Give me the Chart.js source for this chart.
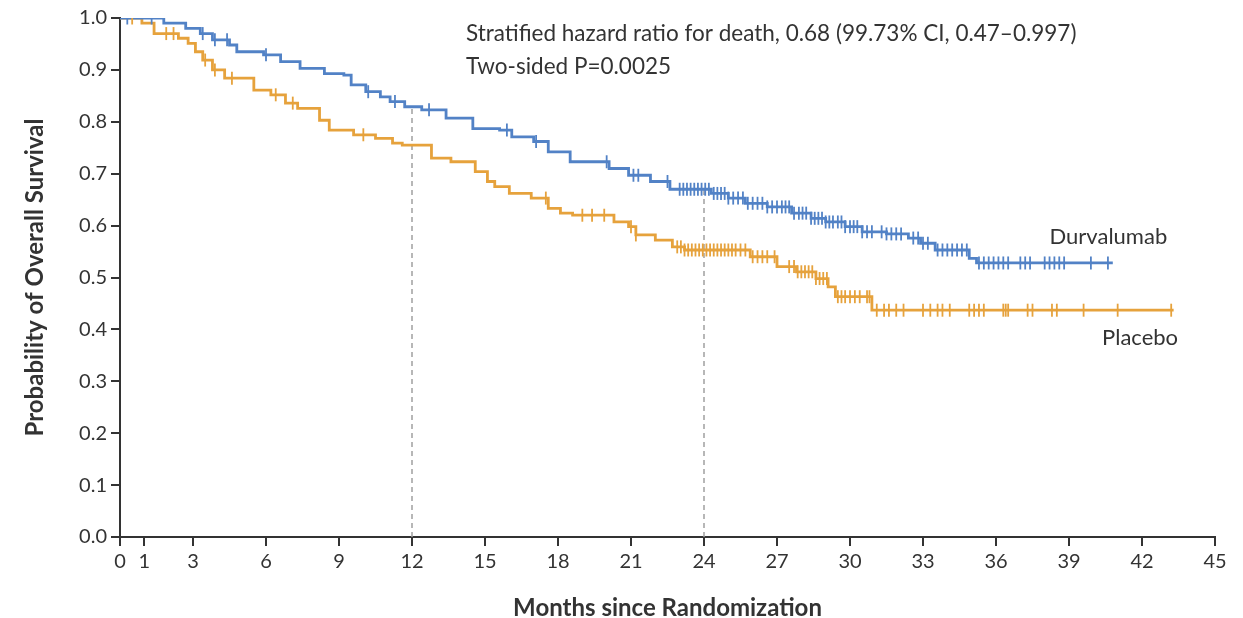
<!DOCTYPE html>
<html>
<head>
<meta charset="utf-8">
<script src="https://cdn.jsdelivr.net/npm/chart.js@4.4.1/dist/chart.umd.min.js"></script>
<style>
html,body{margin:0;padding:0;background:#fff;}
#wrap{position:relative;width:1243px;height:618px;}
</style>
</head>
<body>
<div id="wrap"><canvas id="c" width="1243" height="618"></canvas></div>
<script>
// ---- Data ----
const xTickValues = [0, 1, 3, 6, 9, 12, 15, 18, 21, 24, 27, 30, 33, 36, 39, 42, 45];

const durvaTime = [0, 1.8, 2.7, 3.3, 3.8, 4.5, 4.8, 5.9, 6.6, 7.4, 8.4, 9.2, 9.5, 10.1, 10.7, 11.1, 11.7, 12.4, 13.4, 14.5, 15.6, 16.1, 17.0, 17.6, 18.5, 20.1, 20.9, 21.8, 22.6, 24.3, 25.0, 25.7, 26.6, 27.6, 28.4, 29.0, 29.8, 30.5, 31.5, 32.4, 32.9, 33.5, 34.9, 35.2, 40.8];
const durvaSurv = [1.0, 0.99, 0.98, 0.97, 0.958, 0.948, 0.935, 0.929, 0.916, 0.903, 0.893, 0.89, 0.871, 0.858, 0.848, 0.839, 0.829, 0.823, 0.807, 0.787, 0.784, 0.771, 0.762, 0.742, 0.723, 0.71, 0.697, 0.685, 0.67, 0.662, 0.653, 0.643, 0.636, 0.624, 0.614, 0.607, 0.598, 0.588, 0.584, 0.576, 0.566, 0.553, 0.537, 0.528, 0.528];

const placeboTime = [0, 0.9, 1.4, 2.4, 2.8, 3.1, 3.4, 3.8, 4.3, 5.5, 6.2, 6.8, 7.3, 8.2, 8.6, 9.6, 10.5, 11.2, 11.6, 12.8, 13.6, 14.6, 15.1, 15.4, 16.0, 16.9, 17.6, 18.1, 18.6, 20.3, 20.9, 21.2, 22.0, 22.7, 23.2, 25.9, 27.0, 27.8, 28.6, 29.1, 29.4, 30.9, 43.3];
const placeboSurv = [1.0, 0.99, 0.97, 0.961, 0.951, 0.935, 0.919, 0.9, 0.884, 0.861, 0.852, 0.836, 0.826, 0.803, 0.784, 0.775, 0.768, 0.759, 0.755, 0.73, 0.723, 0.704, 0.685, 0.675, 0.662, 0.653, 0.633, 0.624, 0.62, 0.607, 0.598, 0.582, 0.572, 0.559, 0.553, 0.54, 0.521, 0.511, 0.498, 0.482, 0.463, 0.437, 0.437];

const durvaCensor = [0.3, 1.3, 3.4, 3.9, 4.4, 6.0, 10.2, 11.3, 12.7, 15.9, 17.1, 20.0, 21.1, 21.3, 22.5, 23.0, 23.15, 23.3, 23.45, 23.6, 23.75, 23.9, 24.05, 24.2, 24.4, 24.55, 24.7, 24.85, 25.0, 25.2, 25.4, 25.6, 25.8, 26.0, 26.2, 26.4, 26.6, 26.8, 27.0, 27.2, 27.35, 27.5, 27.7, 27.9, 28.05, 28.2, 28.4, 28.55, 28.7, 28.85, 29.0, 29.15, 29.3, 29.5, 29.65, 29.8, 30.0, 30.15, 30.3, 30.5, 30.7, 30.9, 31.3, 31.5, 31.7, 31.9, 32.1, 32.6, 32.8, 33.0, 33.2, 33.6, 33.8, 34.0, 34.2, 34.4, 34.6, 34.8, 35.3, 35.5, 35.7, 35.9, 36.1, 36.3, 36.5, 37.0, 37.2, 37.4, 38.0, 38.2, 38.4, 38.6, 38.8, 39.9, 40.6];
const placeboCensor = [0.5, 1.9, 2.2, 3.5, 3.9, 4.6, 6.4, 7.1, 10.0, 17.5, 19.0, 19.4, 19.9, 21.0, 21.2, 22.9, 23.05, 23.2, 23.35, 23.5, 23.65, 23.8, 23.95, 24.1, 24.25, 24.4, 24.55, 24.7, 24.85, 25.0, 25.15, 25.3, 25.5, 25.7, 26.0, 26.2, 26.4, 26.6, 26.9, 27.5, 27.7, 27.85, 28.0, 28.15, 28.3, 28.45, 28.6, 28.75, 28.9, 29.05, 29.5, 29.65, 29.8, 30.0, 30.2, 30.4, 30.7, 30.8, 31.1, 31.4, 31.6, 31.9, 32.2, 33.0, 33.3, 33.6, 33.8, 34.1, 34.9, 35.1, 35.3, 35.5, 36.3, 36.4, 36.5, 37.3, 37.5, 38.3, 38.5, 39.6, 41.0, 43.2];

const landmarkMonths = [12, 24];

const seriesNames = ['Durvalumab', 'Placebo'];
const annotationLines = ['Stratified hazard ratio for death, 0.68 (99.73% CI, 0.47\u20130.997)', 'Two-sided P=0.0025'];

// ---- helpers ----
function stepValue(times, surv, t) {
  let v = surv[0];
  for (let i = 0; i < times.length; i++) { if (times[i] <= t) v = surv[i]; else break; }
  return v;
}
const toPts = (xs, ys) => xs.map((x, i) => ({x, y: ys[i]}));
const censorPts = (cs, times, surv) => cs.map(t => ({x: t, y: stepValue(times, surv, t)}));

const BLUE = '#5282c6';
const ORANGE = '#e6a23c';
const TXT = '#333333';
const FONT = 'Lato, "Open Sans", sans-serif';

const landmarkDatasets = landmarkMonths.map(m => ({
  type: 'line',
  data: [{x: m, y: 0}, {x: m, y: stepValue(durvaTime, durvaSurv, m)}],
  borderColor: '#a0a0a0', borderWidth: 1.5, borderDash: [5, 4],
  pointRadius: 0, fill: false, order: 5
}));

const textPlugin = {
  id: 'texts',
  afterDatasetsDraw(chart) {
    const {ctx, scales: {x, y}} = chart;
    ctx.save();
    ctx.fillStyle = TXT;
    ctx.font = '22.5px ' + FONT;
    ctx.textAlign = 'left';
    ctx.textBaseline = 'middle';
    ctx.fillText(annotationLines[0], x.getPixelForValue(14.22), y.getPixelForValue(0.969));
    ctx.fillText(annotationLines[1], x.getPixelForValue(14.22), y.getPixelForValue(0.906));
    ctx.font = '22px ' + FONT;
    ctx.fillText(seriesNames[0], x.getPixelForValue(38.2), y.getPixelForValue(0.578));
    ctx.fillText(seriesNames[1], x.getPixelForValue(40.36), y.getPixelForValue(0.383));
    ctx.restore();
  }
};

new Chart(document.getElementById('c'), {
  type: 'scatter',
  data: {
    datasets: [
      {
        type: 'line', label: seriesNames[0], data: toPts(durvaTime, durvaSurv),
        stepped: 'before', borderColor: BLUE, borderWidth: 2.8, pointRadius: 0, fill: false, order: 2
      },
      {
        type: 'line', label: seriesNames[1], data: toPts(placeboTime, placeboSurv),
        stepped: 'before', borderColor: ORANGE, borderWidth: 2.8, pointRadius: 0, fill: false, order: 3
      },
      {
        label: seriesNames[0] + ' censored', data: censorPts(durvaCensor, durvaTime, durvaSurv),
        pointStyle: 'line', rotation: 90, radius: 6.5, borderColor: BLUE, backgroundColor: BLUE, borderWidth: 1.8, order: 0
      },
      {
        label: seriesNames[1] + ' censored', data: censorPts(placeboCensor, placeboTime, placeboSurv),
        pointStyle: 'line', rotation: 90, radius: 6.5, borderColor: ORANGE, backgroundColor: ORANGE, borderWidth: 1.8, order: 1
      },
      ...landmarkDatasets
    ]
  },
  options: {
    responsive: false,
    animation: false,
    events: [],
    layout: {padding: {top: 18, right: 28, left: 0, bottom: 0}},
    plugins: {legend: {display: false}, tooltip: {enabled: false}},
    scales: {
      x: {
        type: 'linear', min: 0, max: 45,
        afterBuildTicks(scale) { scale.ticks = xTickValues.map(v => ({value: v})); },
        afterFit(scale) { scale.height = 81; },
        grid: {drawOnChartArea: false, drawTicks: true, tickLength: 9, color: '#333', lineWidth: 2},
        border: {color: '#333', width: 2},
        ticks: {color: TXT, font: {family: FONT, size: 20}, padding: 4, maxRotation: 0, autoSkip: false},
        title: {display: true, text: 'Months since Randomization', color: TXT, font: {family: FONT, size: 24, weight: 'bold', lineHeight: 0.8}, padding: {top: 0, bottom: 0}}
      },
      y: {
        min: 0, max: 1,
        afterFit(scale) { scale.width = 120; },
        grid: {drawOnChartArea: false, drawTicks: true, tickLength: 9, color: '#333', lineWidth: 2},
        border: {color: '#333', width: 2},
        ticks: {stepSize: 0.1, color: TXT, font: {family: FONT, size: 20}, padding: 4, callback: v => v.toFixed(1)},
        title: {display: true, text: 'Probability of Overall Survival', color: TXT, font: {family: FONT, size: 24, weight: 'bold', lineHeight: 1.2}, padding: {top: 21, bottom: 0}}
      }
    }
  },
  plugins: [textPlugin]
});
</script>
</body>
</html>
